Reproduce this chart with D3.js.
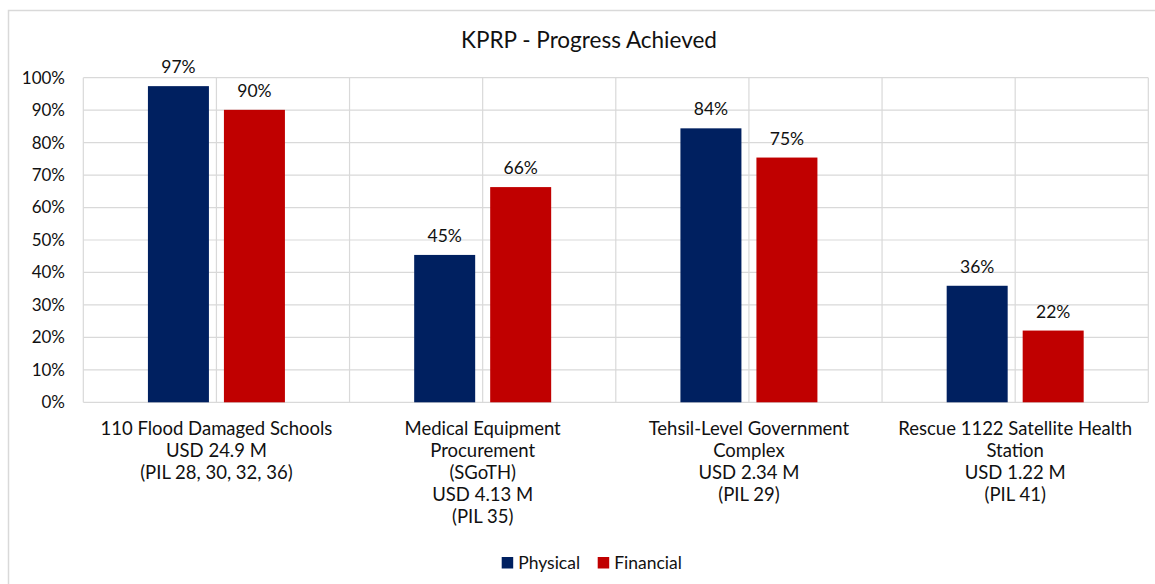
<!DOCTYPE html>
<html>
<head>
<meta charset="utf-8">
<script src="https://cdn.jsdelivr.net/npm/d3@7"></script>
<style>
  html, body { margin: 0; padding: 0; background: #fff; }
  svg { display: block; }
  text { font-family: "Lato", "Open Sans", sans-serif; fill: #111; }
</style>
</head>
<body>
<svg id="chart" width="1155" height="584"></svg>
<script>
const title = "KPRP - Progress Achieved";
const categories = [
  ["110 Flood Damaged Schools", "USD 24.9 M", "(PIL 28, 30, 32, 36)"],
  ["Medical Equipment", "Procurement", "(SGoTH)", "USD 4.13 M", "(PIL 35)"],
  ["Tehsil-Level Government", "Complex", "USD 2.34 M", "(PIL 29)"],
  ["Rescue 1122 Satellite Health", "Station", "USD 1.22 M", "(PIL 41)"]
];
const seriesNames = ["Physical", "Financial"];
const physical = [97.4, 45.4, 84.4, 35.9];
const financial = [90.1, 66.3, 75.4, 22.1];
const yTicks = [0, 10, 20, 30, 40, 50, 60, 70, 80, 90, 100];
const colors = ["#002060", "#C00000"];

(function () {
const svg = d3.select("#chart");
const pLeft = 83.3, pRight = 1148.3, pTop = 77.7, pBottom = 402.3;

// outer chart border
svg.append("path")
  .attr("d", "M8.5,584 V10.5 H1160")
  .attr("fill", "none").attr("stroke", "#d9d9d9").attr("stroke-width", 1.5);

const catIdx = categories.map((d, i) => i);
const x = d3.scaleBand().domain(catIdx).range([pLeft, pRight]).padding(0);
const bw = x.bandwidth();
const xs = d3.scaleBand().domain(seriesNames)
  .range([bw / 2 - 68.5, bw / 2 + 68.5]).paddingInner(15 / 76).paddingOuter(0);
const y = d3.scaleLinear().domain([0, 100]).range([pBottom, pTop]);

// gridlines
const g = svg.append("g");
g.selectAll("line.h").data(yTicks).join("line")
  .attr("x1", pLeft).attr("x2", pRight)
  .attr("y1", d => y(d)).attr("y2", d => y(d))
  .attr("stroke", "#d9d9d9").attr("stroke-width", 1.2);
const vlines = [];
catIdx.forEach(i => { vlines.push(x(i)); vlines.push(x(i) + bw / 2); });
vlines.push(pRight);
g.selectAll("line.v").data(vlines).join("line")
  .attr("x1", d => d).attr("x2", d => d)
  .attr("y1", pTop).attr("y2", pBottom)
  .attr("stroke", "#d9d9d9").attr("stroke-width", 1.2);

// y axis labels
svg.append("g").selectAll("text").data(yTicks).join("text")
  .attr("x", 65).attr("y", d => y(d)).attr("dy", "0.35em")
  .attr("text-anchor", "end").attr("font-size", 17)
  .text(d => d + "%");

// bars
const seriesData = [physical, financial];
seriesNames.forEach((s, si) => {
  const gg = svg.append("g");
  gg.selectAll("rect").data(seriesData[si]).join("rect")
    .attr("x", (d, i) => x(i) + xs(s))
    .attr("width", xs.bandwidth())
    .attr("y", d => y(d))
    .attr("height", d => pBottom - y(d))
    .attr("fill", colors[si]);
  gg.selectAll("text").data(seriesData[si]).join("text")
    .attr("x", (d, i) => x(i) + xs(s) + xs.bandwidth() / 2)
    .attr("y", d => y(d) - 13)
    .attr("text-anchor", "middle").attr("font-size", 17.5)
    .text(d => Math.round(d) + "%");
});

// category labels
const cl = svg.append("g");
categories.forEach((lines, i) => {
  const t = cl.append("text")
    .attr("text-anchor", "middle").attr("font-size", 18.5)
    .attr("x", x(i) + bw / 2).attr("y", 435);
  lines.forEach((ln, k) => {
    t.append("tspan").attr("x", x(i) + bw / 2).attr("y", 435 + k * 22).text(ln);
  });
});

// title
svg.append("text").attr("x", 589).attr("y", 48)
  .attr("text-anchor", "middle").attr("font-size", 22.5).text(title);

// legend
const legendX = [501.7, 597.7];
const lg = svg.append("g");
seriesNames.forEach((s, si) => {
  lg.append("rect").attr("x", legendX[si]).attr("y", 557)
    .attr("width", 11.5).attr("height", 11.5).attr("fill", colors[si]);
  lg.append("text").attr("x", legendX[si] + 16.5).attr("y", 569)
    .attr("font-size", 17.5).text(s);
});
})();
</script>
</body>
</html>
